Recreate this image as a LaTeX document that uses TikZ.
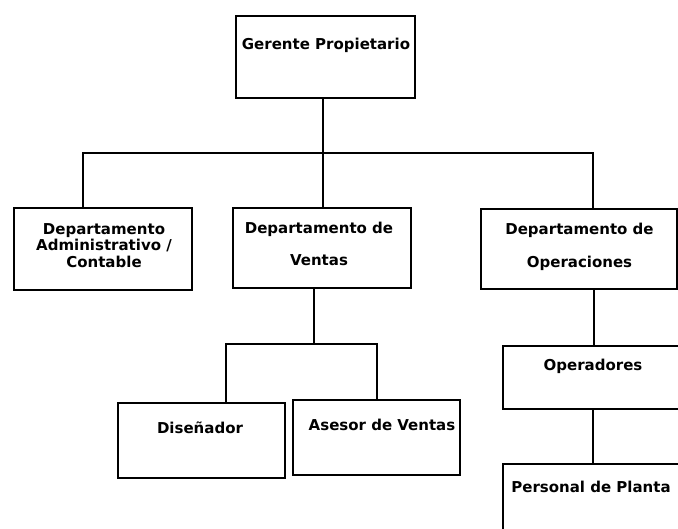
\documentclass[tikz,border=0pt]{standalone}
\usepackage{fontspec}
\setmainfont{DejaVu Sans}
\begin{document}
\begin{tikzpicture}[x=1pt,y=-1pt,
  box/.style={draw, line width=2pt, rectangle, anchor=north west, inner sep=0pt},
  conn/.style={line width=2pt},
  lbl/.style={font=\bfseries\fontsize{15}{16.5}\selectfont, inner sep=0pt, anchor=base}]
\useasboundingbox (0,0) rectangle (678,529);
\clip (0,0) rectangle (678,529);
% boxes
\node[box, minimum width=179pt, minimum height=82pt] (g) at (235,15) {};
\node[box, minimum width=178pt, minimum height=82pt] (adm) at (13,207) {};
\node[box, minimum width=178pt, minimum height=80pt] (ven) at (232,207) {};
\node[box, minimum width=196pt, minimum height=80pt] (ops) at (480,208) {};
\node[box, minimum width=167pt, minimum height=75pt] (dis) at (117,402) {};
\node[box, minimum width=167pt, minimum height=75pt] (ase) at (292,399) {};
\node[box, minimum width=220pt, minimum height=63pt] (opr) at (502,345) {};
\node[box, minimum width=220pt, minimum height=100pt] (per) at (502,463) {};
% labels
\node[lbl] (tg) at (326,50) {Gerente Propietario};
\node[lbl] (ta1) at (104,234.5) {Departamento};
\node[lbl] (ta2) at (104,251) {Administrativo /};
\node[lbl] (ta3) at (104,267.5) {Contable};
\node[lbl] (tv1) at (319,233.5) {Departamento de};
\node[lbl] (tv2) at (319,265.5) {Ventas};
\node[lbl] (to1) at (579.5,234.5) {Departamento de};
\node[lbl] (to2) at (579.5,267.5) {Operaciones};
\node[lbl] (td) at (200,433.5) {Diseñador};
\node[lbl] (tas) at (382,430.5) {Asesor de Ventas};
\node[lbl] (top) at (593,370.3) {Operadores};
\node[lbl] (tp) at (591,492.3) {Personal de Planta};
% connectors
\coordinate (gstem) at (322.5,153);
\coordinate (busL) at (82.5,153);
\coordinate (busR) at (593,153);
\draw[conn] (gstem |- g.south) -- (gstem |- ven.north);
\draw[conn] (busL |- adm.north) -- (busL) -- (busR) -- (busR |- ops.north);
\coordinate (vstem) at (314,344);
\coordinate (vbL) at (226,344);
\coordinate (vbR) at (377,344);
\draw[conn] (vstem |- ven.south) -- (vstem);
\draw[conn] (vbL |- dis.north) -- (vbL) -- (vbR) -- (vbR |- ase.north);
\coordinate (ostem) at (594,300);
\coordinate (pstem) at (593,430);
\draw[conn] (ostem |- ops.south) -- (ostem |- opr.north);
\draw[conn] (pstem |- opr.south) -- (pstem |- per.north);
\end{tikzpicture}
\end{document}
